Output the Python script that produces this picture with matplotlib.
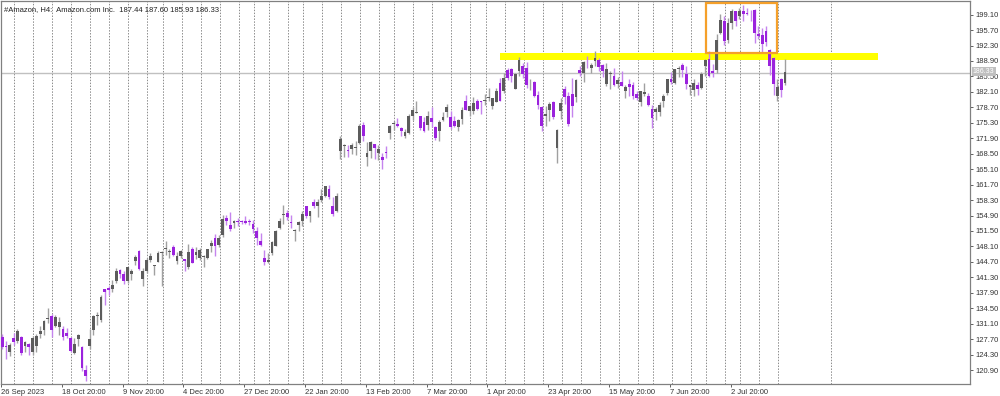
import matplotlib
matplotlib.use("Agg")
import matplotlib.pyplot as plt
import matplotlib.patches as patches
import matplotlib.transforms as mtransforms

# daily candles, #Amazon, 26 Sep 2023 .. 23 Jul 2024 (one per trading day)
opens = [
    128.2, 126.0, 124.9, 128.0, 127.3, 128.1, 126.1, 126.7, 124.9, 126.2,
    128.8, 129.7, 132.2, 132.9, 130.7, 130.4, 129.9, 129.0, 128.0, 124.6,
    127.7, 126.0, 121.0, 126.2, 129.7, 132.8, 132.0, 138.7, 138.9, 138.8,
    140.6, 142.9, 142.0, 140.5, 142.0, 145.0, 147.1, 140.9, 142.7, 145.1,
    143.9, 144.6, 146.7, 147.5, 146.9, 147.9, 144.8, 146.0, 145.3, 143.5,
    147.6, 146.2, 145.5, 145.7, 145.5, 148.1, 149.9, 148.4, 150.6, 154.4,
    152.9, 153.3, 153.8, 153.6, 153.6, 153.7, 153.1, 151.5, 149.2, 145.6,
    144.7, 146.7, 148.3, 152.1, 155.0, 155.4, 153.5, 151.5, 152.8, 153.8,
    156.9, 154.9, 157.8, 156.9, 158.4, 159.3, 160.7, 157.0, 155.9, 169.2,
    170.2, 169.4, 169.5, 169.7, 170.9, 174.8, 167.7, 169.2, 170.6, 168.7,
    167.8, 168.9, 173.1, 175.0, 175.0, 174.2, 172.4, 173.0, 176.7, 177.5,
    176.9, 175.5, 174.8, 176.4, 174.3, 173.5, 175.9, 177.7, 176.6, 175.8,
    174.3, 176.1, 180.0, 177.8, 178.0, 180.2, 179.9, 180.2, 180.8, 179.1,
    179.9, 184.0, 182.4, 186.9, 187.2, 182.8, 186.7, 187.7, 187.4, 183.3,
    184.3, 181.5, 178.7, 176.9, 178.1, 179.9, 169.7, 177.8, 182.8, 181.1,
    181.6, 180.9, 187.0, 186.3, 188.9, 187.4, 188.9, 189.2, 188.0, 183.8,
    186.0, 185.6, 183.8, 184.3, 182.3, 183.9, 183.7, 181.6, 179.9, 181.7,
    181.3, 178.3, 177.7, 177.6, 180.1, 181.8, 184.9, 184.1, 187.1, 188.0,
    186.1, 183.1, 182.5, 183.7, 182.9, 187.8, 189.3, 186.8, 186.9, 195.0,
    197.7, 193.5, 197.3, 199.9, 198.7, 200.0, 199.4, 200.0, 200.1, 194.8,
    194.6, 195.6, 191.4, 189.6, 181.1, 185.0, 184.1,
]
highs = [
    128.9, 127.4, 126.8, 129.0, 130.0, 128.5, 127.4, 126.8, 128.5, 128.8,
    130.7, 131.9, 134.5, 133.3, 133.0, 132.6, 130.7, 130.1, 128.2, 127.9,
    128.8, 126.3, 122.0, 130.0, 133.0, 133.6, 137.4, 138.8, 139.3, 140.7,
    143.4, 143.2, 142.6, 143.6, 143.2, 146.2, 147.3, 143.3, 145.5, 146.6,
    144.1, 147.2, 147.2, 149.3, 147.6, 148.5, 146.9, 147.3, 145.4, 148.6,
    147.9, 147.9, 147.8, 146.2, 147.5, 149.5, 150.8, 150.6, 155.0, 155.1,
    155.6, 154.0, 154.3, 154.0, 154.8, 154.1, 153.9, 152.4, 151.0, 147.4,
    146.6, 149.4, 151.7, 154.4, 157.2, 156.2, 155.0, 152.0, 153.8, 155.8,
    157.0, 156.0, 158.5, 158.5, 160.7, 161.3, 161.7, 159.0, 159.8, 172.5,
    170.6, 170.4, 170.9, 171.4, 175.0, 175.4, 171.0, 171.2, 170.6, 170.4,
    168.7, 170.2, 174.8, 175.8, 176.4, 174.4, 174.0, 177.2, 178.7, 180.1,
    176.9, 176.5, 177.9, 178.8, 174.5, 176.0, 177.6, 179.5, 177.9, 176.7,
    176.1, 178.7, 181.4, 179.3, 181.0, 180.5, 180.0, 181.7, 183.0, 180.8,
    182.9, 185.1, 186.3, 187.3, 187.3, 186.3, 189.7, 188.4, 188.7, 184.9,
    184.6, 182.4, 179.0, 178.9, 179.9, 180.0, 173.9, 180.8, 183.5, 182.0,
    185.2, 185.0, 187.9, 188.8, 189.9, 188.4, 191.2, 189.6, 188.3, 188.4,
    186.7, 187.3, 185.3, 186.7, 183.7, 185.0, 184.3, 182.4, 182.2, 184.1,
    181.9, 179.2, 178.7, 179.8, 181.6, 185.0, 186.5, 187.2, 187.8, 188.4,
    187.7, 183.7, 185.0, 184.3, 186.5, 189.3, 191.0, 188.2, 194.8, 199.3,
    198.9, 198.3, 200.4, 200.0, 200.5, 201.2, 200.6, 200.1, 200.3, 196.5,
    196.2, 196.6, 191.6, 189.7, 184.9, 185.1, 189.4,
]
lows = [
    125.6, 123.4, 124.1, 126.4, 126.9, 124.3, 124.9, 124.3, 124.3, 124.9,
    128.0, 128.6, 131.2, 128.2, 130.4, 128.7, 127.5, 127.9, 124.9, 124.5,
    126.3, 120.8, 118.4, 125.5, 128.6, 130.8, 131.5, 135.2, 137.5, 138.0,
    140.1, 141.1, 139.9, 140.0, 140.7, 144.0, 142.9, 139.5, 142.2, 144.7,
    141.9, 144.6, 139.3, 146.3, 145.5, 145.9, 144.3, 145.6, 142.8, 143.1,
    144.5, 145.3, 145.2, 143.5, 145.3, 146.8, 145.9, 148.0, 150.2, 152.8,
    151.6, 152.1, 152.5, 153.0, 153.0, 152.8, 151.0, 148.4, 148.3, 144.1,
    144.4, 146.2, 148.2, 151.9, 153.1, 154.0, 152.2, 149.4, 151.5, 152.7,
    154.3, 153.5, 156.5, 154.5, 157.9, 158.9, 158.5, 154.8, 155.6, 167.3,
    167.7, 167.8, 168.5, 168.3, 170.6, 171.2, 165.8, 167.6, 167.4, 167.2,
    165.1, 167.5, 171.8, 173.7, 174.3, 172.5, 172.0, 172.9, 176.0, 177.4,
    173.8, 173.3, 173.8, 174.3, 171.5, 171.4, 175.6, 176.6, 173.9, 174.3,
    173.5, 175.1, 178.2, 176.8, 177.2, 178.2, 177.3, 179.3, 180.0, 178.4,
    179.8, 180.0, 181.9, 184.8, 184.2, 182.7, 185.5, 185.1, 183.0, 182.5,
    181.0, 178.4, 173.4, 174.6, 175.8, 176.1, 166.5, 176.1, 179.4, 174.6,
    176.6, 179.9, 185.5, 184.3, 187.3, 186.3, 187.9, 186.6, 185.4, 183.4,
    182.7, 183.5, 183.0, 183.3, 180.8, 181.3, 180.6, 180.3, 179.1, 181.2,
    179.0, 174.2, 175.9, 176.8, 178.8, 181.5, 183.9, 183.9, 185.3, 185.4,
    182.7, 181.5, 181.2, 181.4, 182.7, 185.6, 185.3, 185.3, 186.3, 194.8,
    192.5, 192.8, 195.9, 196.7, 198.2, 197.7, 199.0, 197.7, 192.9, 193.8,
    190.9, 192.2, 185.9, 181.5, 180.1, 181.0, 183.6,
]
closes = [
    126.0, 125.9, 126.5, 127.1, 129.5, 124.7, 127.0, 126.0, 128.0, 128.3,
    129.5, 131.8, 132.3, 129.8, 132.6, 131.5, 128.1, 128.4, 125.2, 126.6,
    128.6, 121.4, 119.6, 127.7, 132.7, 133.1, 137.0, 138.1, 138.6, 139.7,
    142.7, 142.1, 140.6, 143.6, 142.6, 145.8, 143.2, 142.8, 145.2, 146.1,
    143.9, 146.7, 146.7, 147.7, 147.0, 146.3, 146.1, 147.0, 144.8, 146.9,
    144.5, 146.9, 147.4, 145.9, 147.5, 148.8, 148.2, 150.0, 154.1, 153.8,
    151.9, 153.8, 153.4, 153.4, 153.3, 153.4, 151.9, 149.9, 148.5, 144.6,
    145.2, 149.1, 151.4, 153.7, 155.2, 154.6, 153.2, 151.7, 153.5, 155.3,
    154.8, 156.0, 156.9, 157.8, 159.1, 161.3, 159.0, 155.2, 159.3, 171.8,
    170.3, 169.2, 170.5, 169.8, 174.5, 172.3, 168.6, 171.0, 169.8, 169.5,
    167.1, 168.6, 174.6, 175.0, 174.7, 173.5, 173.2, 176.8, 178.2, 177.6,
    174.1, 173.5, 176.8, 175.4, 172.0, 175.4, 176.6, 178.8, 174.4, 174.5,
    175.9, 178.2, 178.2, 178.9, 179.7, 178.3, 179.8, 180.4, 181.0, 180.7,
    182.4, 180.0, 185.1, 185.2, 185.7, 186.0, 189.1, 186.1, 183.6, 183.3,
    181.3, 179.2, 174.6, 177.2, 179.5, 176.6, 173.7, 179.6, 181.0, 175.0,
    179.0, 184.7, 186.2, 188.7, 188.8, 188.0, 189.5, 187.5, 186.6, 187.1,
    186.0, 183.6, 184.7, 183.5, 183.2, 183.1, 181.1, 180.8, 182.2, 182.0,
    179.3, 176.4, 178.3, 179.3, 181.3, 185.0, 184.3, 187.1, 187.2, 186.9,
    183.8, 183.7, 184.1, 182.8, 186.1, 189.1, 185.6, 186.3, 193.6, 197.9,
    193.3, 197.2, 200.0, 197.6, 200.0, 199.3, 199.3, 199.8, 195.1, 194.5,
    192.7, 193.0, 187.9, 183.8, 183.1, 182.6, 186.4,
]

# x axis labels (candle index -> text)
date_idx = [0, 16, 32, 48, 64, 80, 96, 112, 128, 144, 160, 176, 192]
date_labels = ["26 Sep 2023", "18 Oct 20:00", "9 Nov 20:00", "4 Dec 20:00",
               "27 Dec 20:00", "22 Jan 20:00", "13 Feb 20:00", "7 Mar 20:00",
               "1 Apr 20:00", "23 Apr 20:00", "15 May 20:00", "7 Jun 20:00",
               "2 Jul 20:00"]
# first candle of each week (period separators)
week_starts = [4, 9, 14, 19, 24, 29, 34, 39, 43, 48, 53, 58, 63, 67, 71, 76, 80,
               85, 90, 95, 100, 104, 109, 114, 119, 124, 128, 133, 138, 143, 148,
               153, 158, 163, 168, 172, 177, 182, 186, 191, 195, 200, 205, 219]

last_price = 186.33
header = "#Amazon, H4:  Amazon.com Inc.  187.44 187.60 185.93 186.33"

# resistance zone and breakout box
zone_start, zone_end, zone_low, zone_high = 131.0, 230.4, 189.1, 190.7
box_start, box_end, box_low, box_high = 185.3, 203.9, 190.7, 201.7

plt.rcParams['font.family'] = ['Liberation Sans', 'DejaVu Sans']

fig = plt.figure(figsize=(10, 3.96), dpi=100)
ax = fig.add_axes([0.001, 0.0303, 0.969, 0.9672])
ax.set_xlim(-0.26, 254.7)
ax.set_ylim(117.83, 202.1)

for w in week_starts:
    ax.axvline(w - 0.75, color='#8c8c8c', lw=0.7, ls=(0, (1.5, 1.5)), zorder=1)

ax.add_patch(patches.Rectangle((zone_start, zone_low), zone_end - zone_start,
                               zone_high - zone_low, color='#ffff00', lw=0, zorder=2))
ax.axhline(last_price, color='#c0c0c0', lw=1.0, zorder=2)

idx = list(range(len(closes)))
up = [c >= o for o, c in zip(opens, closes)]
wick_col = ['#a0a0a0' if u else '#c584ee' for u in up]
body_col = ['#5c5c5c' if u else '#9b22dd' for u in up]
ax.vlines(idx, lows, highs, colors=wick_col, lw=1.0, zorder=3)
bottoms = [min(o, c) for o, c in zip(opens, closes)]
heights = [max(abs(c - o), 0.2) for o, c in zip(opens, closes)]
ax.bar(idx, heights, bottom=bottoms, width=0.72, color=body_col, lw=0, zorder=4)

ax.add_patch(patches.Rectangle((box_start, box_low), box_end - box_start,
                               box_high - box_low, fill=False, edgecolor='#f5a02a',
                               lw=1.6, zorder=5))

# axes styling like the terminal
for s in ax.spines.values():
    s.set_color('#808080')
    s.set_linewidth(0.9)
ax.yaxis.tick_right()
ytk = [round(120.9 + 3.4 * k, 2) for k in range(24)]
ax.set_yticks(ytk)
ax.set_yticklabels([f"{v:.2f}" for v in ytk])
ax.tick_params(axis='y', direction='out', length=2.5, width=0.7, color='#606060',
               labelsize=5.5, labelcolor='#333333', pad=1.5)
ax.set_xticks([i - 0.3 for i in date_idx])
ax.set_xticklabels(date_labels)
ax.tick_params(axis='x', direction='out', length=2.5, width=0.7, color='#606060',
               labelsize=5.5, labelcolor='#333333', pad=1)
for lbl in ax.get_xticklabels():
    lbl.set_ha('left')

trans = mtransforms.blended_transform_factory(ax.transAxes, ax.transData)
ax.text(1.003, last_price + 0.25, f"{last_price:.2f}", transform=trans, fontsize=5,
        color='white', va='center', ha='left',
        bbox=dict(boxstyle='square,pad=0.15', fc='#c0c0c0', ec='none'), zorder=6)
ax.text(0.003, 0.988, header, transform=ax.transAxes, fontsize=5.5, color='#222222',
        va='top', ha='left')

fig.savefig('out.png', dpi=100)
